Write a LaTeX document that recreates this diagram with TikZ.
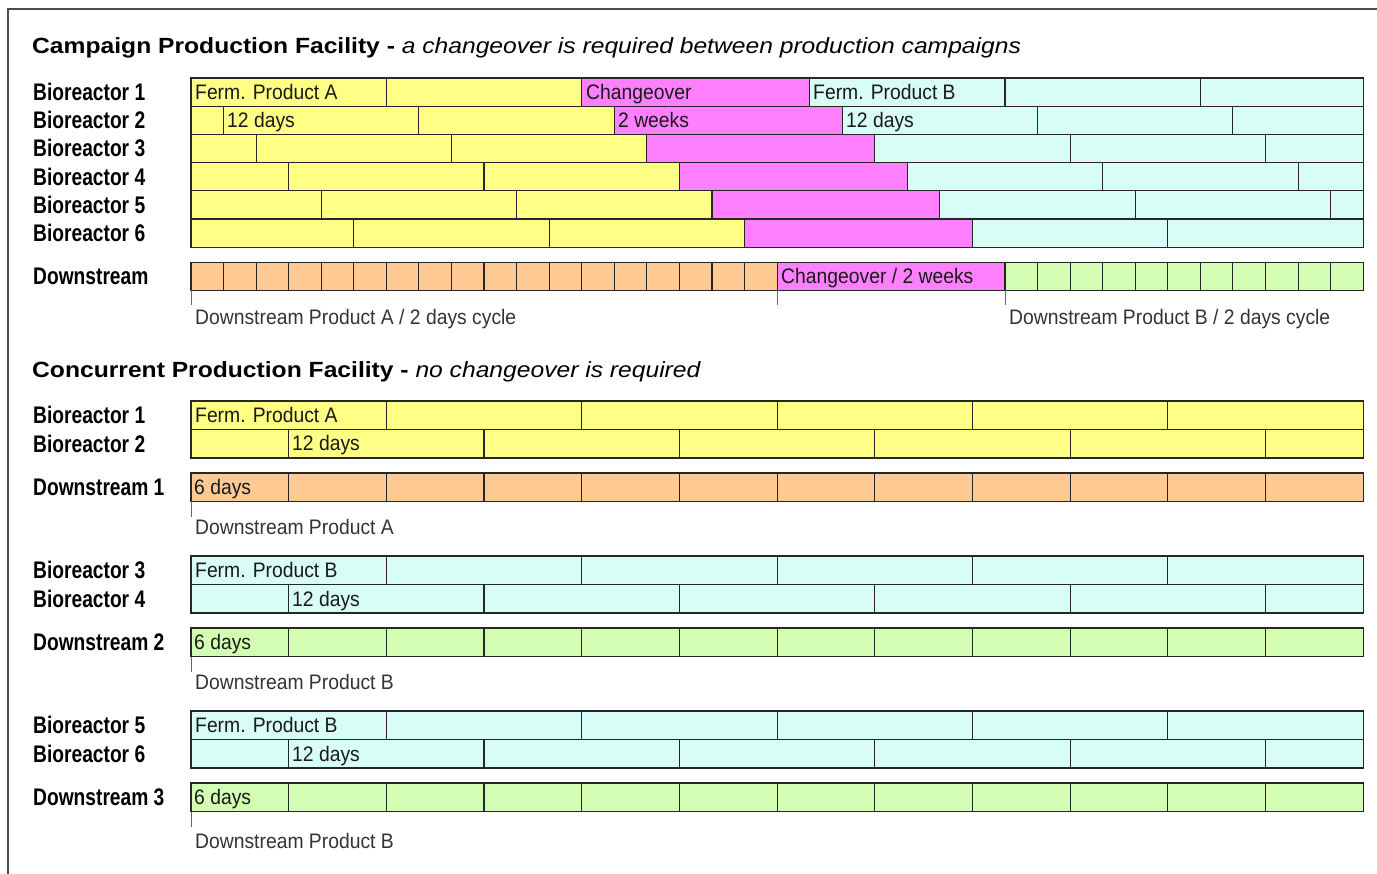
\documentclass[tikz,border=0pt]{standalone}
\usepackage{fontspec}
\setmainfont{Liberation Sans}
\newfontfamily\cellfont{Liberation Sans}[FakeStretch=0.92]
\newfontfamily\rowfont{Liberation Sans}[FakeStretch=0.80]
\newfontfamily\headfont{Liberation Sans}[FakeStretch=1.12]
\definecolor{fermA}{HTML}{FFFF85}
\definecolor{fermB}{HTML}{D8FDF6}
\definecolor{change}{HTML}{FF80FF}
\definecolor{dsA}{HTML}{FFC994}
\definecolor{dsB}{HTML}{D4FDB4}

\begin{document}
\begin{tikzpicture}[
        x=1pt,
        y=-1pt,
        cell/.style={
            draw=black!85,
            line width=1.1pt
        },
        tick/.style={
            draw=black!60,
            line width=0.9pt
        },
        rowlabel/.style={
            anchor=base west,
            inner sep=0pt,
            font=\rowfont\bfseries\fontsize{24}{24}\selectfont
        },
        celltext/.style={
            anchor=base west,
            inner sep=0pt,
            text=black!90,
            font=\cellfont\fontsize{21}{21}\selectfont
        },
        note/.style={
            anchor=base west,
            inner sep=0pt,
            text=black!80,
            font=\cellfont\fontsize{21}{21}\selectfont
        },
        heading/.style={
            anchor=base west,
            inner sep=0pt,
            font=\headfont\fontsize{22}{22}\selectfont
        }
    ]

        \useasboundingbox (0,0) rectangle (1377,874);
        \clip (0,0) rectangle (1377,874);
        \draw[line width=1.2pt, black!70] (8,890) -- (8,9) -- (1390,9);

        \node[heading] (campaign) at (32,54) {\textbf{Campaign Production Facility -} \textit{a changeover is required between production campaigns}};
        \node[heading] (concurrent) at (32,378) {\textbf{Concurrent Production Facility -} \textit{no changeover is required}};

        \foreach \r in {1,...,6}
            \node[rowlabel] (cbr\r) at (33,{100.5+28.2*(\r-1)}) {Bioreactor \r};
        \node[rowlabel] (cds) at (33,285) {Downstream};

        \node[rowlabel] (ubr1) at (33,423.5) {Bioreactor 1};
        \node[rowlabel] (ubr2) at (33,452.5) {Bioreactor 2};
        \node[rowlabel] (uds1) at (33,495.5) {Downstream 1};
        \node[rowlabel] (ubr3) at (33,578.5) {Bioreactor 3};
        \node[rowlabel] (ubr4) at (33,607.5) {Bioreactor 4};
        \node[rowlabel] (uds2) at (33,650.5) {Downstream 2};
        \node[rowlabel] (ubr5) at (33,733.5) {Bioreactor 5};
        \node[rowlabel] (ubr6) at (33,762.5) {Bioreactor 6};
        \node[rowlabel] (uds3) at (33,805.5) {Downstream 3};

        \begin{scope}[shift={(191,0)}, x=16.28pt]
            \foreach \o [count=\r from 0] in {0,2,4,6,8,10} {
                \pgfmathsetmacro\ytop{78+28.2*\r}
                \pgfmathsetmacro\ybot{\ytop+28.2}
                \filldraw[cell, fill=fermA] (0,\ytop) rectangle (\o+24,\ybot);
                \draw[cell] (\o,\ytop) -- (\o,\ybot) (\o+12,\ytop) -- (\o+12,\ybot);
                \filldraw[cell, fill=change] (\o+24,\ytop) rectangle (\o+38,\ybot);
                \filldraw[cell, fill=fermB] (\o+38,\ytop) rectangle (72,\ybot);
                \draw[cell] (\o+50,\ytop) -- (\o+50,\ybot) (\o+62,\ytop) -- (\o+62,\ybot);
            }

            \filldraw[cell, fill=dsA] (0,262.5) rectangle (36,290.5);
            \foreach \d in {2,4,...,34}
                \draw[cell] (\d,262.5) -- (\d,290.5);
            \filldraw[cell, fill=change] (36,262.5) rectangle (50,290.5);
            \filldraw[cell, fill=dsB] (50,262.5) rectangle (72,290.5);
            \foreach \d in {52,54,...,70}
                \draw[cell] (\d,262.5) -- (\d,290.5);
            \foreach \d in {0,36,50}
                \draw[tick] (\d,290.5) -- (\d,305);

            \foreach \yb/\fc/\dc in {401/fermA/dsA, 556/fermB/dsB, 711/fermB/dsB} {
                \filldraw[cell, fill=\fc] (0,\yb) rectangle (72,\yb+28.5);
                \foreach \d in {12,24,...,60}
                    \draw[cell] (\d,\yb) -- (\d,\yb+28.5);
                \filldraw[cell, fill=\fc] (0,\yb+28.5) rectangle (72,\yb+57);
                \foreach \d in {6,18,...,66}
                    \draw[cell] (\d,\yb+28.5) -- (\d,\yb+57);
                \filldraw[cell, fill=\dc] (0,\yb+72) rectangle (72,\yb+100.5);
                \foreach \d in {6,12,...,66}
                    \draw[cell] (\d,\yb+72) -- (\d,\yb+100.5);
                \draw[tick] (0,\yb+100.5) -- (0,\yb+116);
            }
        \end{scope}

        \node[celltext] (fa) at (195,99.5) {Ferm. Product A};
        \node[celltext] (co) at (586,99.5) {Changeover};
        \node[celltext] (fb) at (813,99.5) {Ferm. Product B};
        \node[celltext] (da) at (227,127.5) {12 days};
        \node[celltext] (wk) at (618,127.5) {2 weeks};
        \node[celltext] (db) at (846,127.5) {12 days};
        \node[celltext] (dsco) at (781,284) {Changeover / 2 weeks};
        \node[note] (cyca) at (195,324.5) {Downstream Product A / 2 days cycle};
        \node[note] (cycb) at (1009,324.5) {Downstream Product B / 2 days cycle};

        \node[celltext] (ufa) at (195,422.5) {Ferm. Product A};
        \node[celltext] (uda) at (292,451) {12 days};
        \node[celltext] (usa) at (194,494.5) {6 days};
        \node[note] (upa) at (195,534.5) {Downstream Product A};

        \node[celltext] (ufb) at (195,577.5) {Ferm. Product B};
        \node[celltext] (udb) at (292,606) {12 days};
        \node[celltext] (usb) at (194,649.5) {6 days};
        \node[note] (upb) at (195,689.5) {Downstream Product B};

        \node[celltext] (ufc) at (195,732.5) {Ferm. Product B};
        \node[celltext] (udc) at (292,761) {12 days};
        \node[celltext] (usc) at (194,804.5) {6 days};
        \node[note] (upc) at (195,848.5) {Downstream Product B};

    \end{tikzpicture}
\end{document}
